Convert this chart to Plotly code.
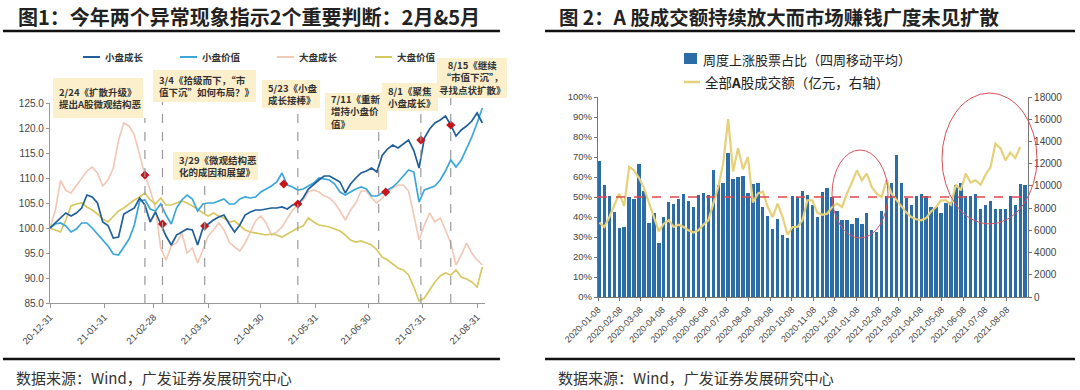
import plotly.graph_objects as go
import pandas as pd

W, H = 1080, 390


def px(x):
    return x / W


def py(y):
    return 1 - y / H


CJK = "Noto Sans CJK SC"
LAT = "Liberation Sans"

# ---------------- Left chart data (figure 1) ----------------
style_dates = pd.date_range("2020-12-31", periods=83, freq="3D")

small_growth = [100, 101, 102.2, 103, 102.4, 103, 104, 106.6, 106.2, 105,
                101.2, 100.5, 98, 98.2, 102.8, 103.4, 104, 106, 104.6, 101.2,
                103.2, 100.8, 98.4, 96.6, 98.6, 99.2, 99.8, 99.6, 96.6, 100,
                100.8, 101.6, 102.2, 102.6, 100.8, 99.2, 100.6, 102.6, 103.2, 103.6,
                103.6, 103.8, 104, 104, 104.2, 103.8, 104.6, 104.8, 106, 107.8,
                108.8, 109.6, 110.4, 110.4, 109.8, 109.2, 107, 108.8, 110, 111,
                111.4, 112, 111.2, 114.5, 115.8, 116.6, 116, 116.8, 117.6, 115.5,
                112, 118, 119.8, 121, 121.6, 122.4, 120.6, 118.4, 119.6, 120.4,
                121.4, 123, 121]

small_value = [100, 100.8, 101, 100.4, 99.2, 99.8, 101, 101, 100, 98.8,
               97.6, 96.4, 94.8, 94.6, 96.2, 97.8, 100.6, 105.4, 105.6, 103.8,
               103.4, 104.8, 102.6, 100.8, 104, 105.6, 106.6, 105.8, 103.4, 104.8,
               105, 105, 105.4, 105.8, 104.8, 104.8, 105.8, 106.2, 106, 106.2,
               107.2, 107.8, 108.4, 109.2, 111, 108.6, 108.2, 107.6, 107.8, 108.4,
               109, 110, 109.8, 109.6, 108.8, 107.2, 106.6, 107.2, 107.8, 108.2,
               107.8, 106.4, 106.4, 107, 107.6, 108.2, 109.2, 110.4, 111.6, 111.2,
               105.2, 107.6, 108, 108.4, 109.6, 111.4, 113.6, 112.2, 113.6, 116,
               118.2, 121, 124]

large_growth = [100, 103.5, 109.5, 107.5, 107, 108.5, 109.8, 111.4, 112.2, 111,
                108.4, 109.6, 112, 117.6, 121, 120.4, 118.6, 114.6, 110.6, 107.6,
                104, 96, 93.6, 96.4, 97, 99, 95, 96, 93, 95.6,
                98.4, 99.6, 101, 99.6, 97.2, 96.2, 95.4, 97, 99.2, 101.4,
                102.4, 101, 98.6, 99.2, 100.2, 102, 103.6, 104.6, 105.6, 107.2,
                107.6, 107.2, 106.4, 106, 105, 103.4, 101.6, 103.6, 105, 107.4,
                107.4, 106, 105, 106, 107.2, 108, 108.6, 108.6, 107.4, 102.6,
                97.6, 100.6, 103, 101.2, 102, 99.6, 97, 92.6, 94.6, 97,
                95, 93.6, 92.6]

large_value = [100, 99.6, 99.2, 101.6, 104.4, 104.8, 105, 104.2, 103.6, 102.8,
               101.8, 101.2, 102.4, 103.4, 104, 104.8, 105.6, 106.2, 107, 105.6,
               104.8, 106, 104.6, 104.6, 105, 105.4, 105, 104.4, 103.8, 103,
               102.4, 103, 102.4, 102, 101.2, 101.4, 100.4, 99.6, 99.2, 99,
               98.8, 98.6, 98.8, 98.6, 98.2, 98.8, 99.4, 100, 100.4, 102,
               101.2, 100.6, 100.4, 100.2, 99.8, 99.4, 98.6, 97.6, 97.2, 97.4,
               97, 96.6, 95.6, 94.2, 93.6, 92.8, 92, 91.6, 90.6, 88.2,
               85.4, 86, 87.6, 89.2, 90.4, 91, 90.6, 91.6, 90.2, 89.8,
               89.2, 88.2, 92.2]

style_names = ["小盘成长", "小盘价值", "大盘成长", "大盘价值"]
style_colors = ["#215f9a", "#3ba6d9", "#f1c9b8", "#d8c862"]

marker_dates = ["2021-02-23", "2021-03-05", "2021-03-29", "2021-05-13",
                "2021-05-21", "2021-07-10", "2021-07-30", "2021-08-16"]
marker_values = [110.6, 100.8, 100.4, 108.8, 104.8, 107.2, 117.6, 120.6]

event_dates = ["2021-02-23", "2021-03-05", "2021-03-29", "2021-05-21",
               "2021-07-06", "2021-07-30", "2021-08-16"]
event_texts = ["2/24《扩散升级》<br>提出A股微观结构恶",
               "3/4《拾级而下，“市<br>值下沉”如何布局？》",
               "3/29《微观结构恶<br>化的成因和展望》",
               "5/23《小盘<br>成长接棒》",
               "7/11《重新<br>增持小盘价<br>值》",
               "8/1《聚焦<br>小盘成长》",
               "8/15《继续<br>“市值下沉”，<br>寻找点状扩散》"]

left_tickvals = ["2020-12-31", "2021-01-31", "2021-02-28", "2021-03-31", "2021-04-30",
                 "2021-05-31", "2021-06-30", "2021-07-31", "2021-08-31"]
left_ticktext = ["20-12-31", "21-01-31", "21-02-28", "21-03-31", "21-04-30",
                 "21-05-31", "21-06-30", "21-07-31", "21-08-31"]

# ---------------- Right chart data (figure 2) ----------------
week_dates = pd.date_range("2020-01-10", periods=87, freq="7D")

up_ratio = [68, 56, 50.5, 42.7, 34.6, 34.8, 50, 49, 66.5, 53,
            37, 42, 27, 40, 47.5, 46.5, 49, 51.5, 48, 45,
            51, 52, 51, 63.6, 56, 57, 72, 59, 60, 60.5,
            52, 56.5, 57, 45, 40.5, 34, 39, 31, 29.5, 50.5,
            50, 53, 51, 46, 40, 52.7, 54.5, 50, 43, 38.5,
            38.5, 36.5, 39.5, 36.5, 42, 33.5, 32.7, 43, 50.5, 57,
            71, 57, 49.5, 46, 50.5, 51.5, 50.5, 45, 45, 42,
            47, 47.5, 55.8, 57, 50.5, 50.5, 51.5, 44, 46, 48,
            44, 44, 44, 50.5, 46, 56.5, 56]

turnover = [6700, 6300, 7200, 8300, 9300, 8200, 11700, 11400, 10700, 9800,
            8500, 7000, 5900, 6600, 6900, 6300, 6500, 6300, 6000, 5800,
            6000, 6500, 6900, 8400, 9900, 12000, 16000, 11300, 13400, 11500,
            12600, 8500, 9300, 9500, 8100, 7200, 8400, 7200, 5600, 6300,
            6300, 6900, 8700, 8700, 7600, 7400, 7500, 8100, 8400, 8100,
            9300, 10300, 11400, 10500, 11100, 9900, 9300, 9000, 10500, 9300,
            8700, 8100, 7600, 7200, 7000, 6900, 7100, 7700, 8100, 8700,
            8700, 8300, 10100, 9600, 11100, 10300, 10500, 10100, 11000, 11700,
            13800, 13400, 12300, 13000, 12500, 13500]

right_tickvals = ["2020-%02d-08" % m for m in range(1, 13)] + ["2021-%02d-08" % m for m in range(1, 9)]
right_ticktext = right_tickvals

fig = go.Figure()

series = [small_growth, small_value, large_growth, large_value]
for i in [2, 3, 1, 0]:
    fig.add_trace(go.Scatter(x=style_dates, y=series[i], mode="lines", name=style_names[i],
                             line=dict(color=style_colors[i], width=1.7),
                             xaxis="x", yaxis="y", showlegend=False))
fig.add_trace(go.Scatter(x=marker_dates, y=marker_values, mode="markers",
                         marker=dict(symbol="diamond", size=7, color="#c8141c"),
                         xaxis="x", yaxis="y", showlegend=False, name="事件"))

fig.add_trace(go.Bar(x=week_dates, y=up_ratio, name="周度上涨股票占比（四周移动平均）",
                     marker=dict(color="#2c6da8", line=dict(width=0)),
                     width=4.8 * 86400000, xaxis="x2", yaxis="y2", showlegend=False))
fig.add_trace(go.Scatter(x=week_dates[:len(turnover)], y=turnover, mode="lines",
                         name="全部A股成交额（亿元，右轴）",
                         line=dict(color="#e6d07a", width=2.2),
                         xaxis="x2", yaxis="y3", showlegend=False))

fig.update_layout(
    width=W, height=H, autosize=False,
    margin=dict(l=0, r=0, t=0, b=0, pad=0),
    paper_bgcolor="white", plot_bgcolor="rgba(0,0,0,0)",
    bargap=0,
    xaxis=dict(domain=[px(50), px(485)], anchor="y", type="date", automargin=False,
               range=["2020-12-31", "2021-09-04 12:00"],
               tickvals=left_tickvals, ticktext=left_ticktext, tickangle=-45,
               ticks="outside", ticklen=4, tickcolor="#999",
               showline=True, linecolor="#999", linewidth=1.2,
               showgrid=False, zeroline=False,
               tickfont=dict(family=LAT, size=9.5, color="#444")),
    yaxis=dict(domain=[py(303), py(103)], anchor="x", range=[85, 125], dtick=5, automargin=False,
               tickformat=".1f", ticks="outside", ticklen=3, tickcolor="#999",
               showline=True, linecolor="#999", linewidth=1.2,
               showgrid=False, zeroline=False,
               tickfont=dict(family=LAT, size=10, color="#444")),
    xaxis2=dict(domain=[px(598), px(1028)], anchor="y2", type="date", automargin=False,
                range=["2020-01-08", "2021-09-07"],
                tickvals=right_tickvals, ticktext=right_ticktext, tickangle=-45,
                ticks="outside", ticklen=3, tickcolor="#777",
                showline=True, linecolor="#777", linewidth=1.2,
                showgrid=False, zeroline=False,
                tickfont=dict(family=LAT, size=9, color="#444")),
    yaxis2=dict(domain=[py(297), py(97)], anchor="x2", range=[0, 100], dtick=10, automargin=False,
                ticksuffix="%", ticks="outside", ticklen=3, tickcolor="#777",
                showline=True, linecolor="#777", linewidth=1.2,
                showgrid=False, zeroline=False,
                tickfont=dict(family=LAT, size=9.5, color="#444")),
    yaxis3=dict(overlaying="y2", side="right", anchor="x2", range=[0, 18000], dtick=2000,
                automargin=False, tickformat="d",
                ticks="outside", ticklen=3, tickcolor="#777",
                showline=True, linecolor="#777", linewidth=1.2,
                showgrid=False, zeroline=False,
                tickfont=dict(family=LAT, size=10, color="#444")),
)

shapes = []
annotations = []

for x0, x1 in [(3, 500), (545, 1075)]:
    shapes.append(dict(type="line", xref="paper", yref="paper", x0=px(x0), x1=px(x1),
                       y0=py(31), y1=py(31), line=dict(color="#111", width=2.5)))
    shapes.append(dict(type="line", xref="paper", yref="paper", x0=px(x0), x1=px(x1),
                       y0=py(359), y1=py(359), line=dict(color="#111", width=2.5)))

annotations.append(dict(text="<b>图1：今年两个异常现象指示2个重要判断：2月&5月</b>", x=px(16), y=py(17),
                        xref="paper", yref="paper", xanchor="left", yanchor="middle", showarrow=False,
                        font=dict(family=CJK, size=20, color="#222")))
annotations.append(dict(text="<b>图 2：A 股成交额持续放大而市场赚钱广度未见扩散</b>", x=px(557), y=py(17),
                        xref="paper", yref="paper", xanchor="left", yanchor="middle", showarrow=False,
                        font=dict(family=CJK, size=19.4, color="#222")))
for sx in [14, 556]:
    annotations.append(dict(text="数据来源：Wind，广发证券发展研究中心", x=px(sx), y=py(377),
                            xref="paper", yref="paper", xanchor="left", yanchor="middle", showarrow=False,
                            font=dict(family=CJK, size=15, color="#333")))

leg_x = [83, 180, 277, 375]
for lx, name, col in zip(leg_x, style_names, style_colors):
    shapes.append(dict(type="line", xref="paper", yref="paper", x0=px(lx), x1=px(lx + 17),
                       y0=py(57), y1=py(57), line=dict(color=col, width=2)))
    annotations.append(dict(text="<b>" + name + "</b>", x=px(lx + 20), y=py(57), xref="paper", yref="paper",
                            xanchor="left", yanchor="middle", showarrow=False,
                            font=dict(family=CJK, size=9.5, color="#333")))

boxes = [(53, 143, 78, 118), (153, 256, 70, 102), (173, 258, 152, 180), (262, 320, 80, 108),
         (325, 387, 93, 130), (382, 438, 83, 111), (437, 507, 58, 98)]
for d, (bx0, bx1, by0, by1) in zip(event_dates, boxes):
    shapes.append(dict(type="line", xref="x", yref="paper", x0=d, x1=d, y0=py(303), y1=py(by1),
                       line=dict(color="#9a9a9a", width=1.2, dash="dash")))
for (bx0, bx1, by0, by1) in boxes:
    shapes.append(dict(type="rect", xref="paper", yref="paper", x0=px(bx0), x1=px(bx1),
                       y0=py(by1), y1=py(by0), fillcolor="#fcf0cc", line=dict(width=0), layer="above"))
for i, (txt, (bx0, bx1, by0, by1)) in enumerate(zip(event_texts, boxes)):
    centered = i == 6
    annotations.append(dict(text="<b>" + txt + "</b>",
                            x=px((bx0 + bx1) / 2) if centered else px(bx0 + 4),
                            y=py((by0 + by1) / 2),
                            xref="paper", yref="paper",
                            xanchor="center" if centered else "left", yanchor="middle",
                            align="center" if centered else "left", showarrow=False,
                            font=dict(family=CJK, size=9.5, color="#333")))

shapes.append(dict(type="line", xref="x2 domain", yref="y2", x0=0, x1=1, y0=50, y1=50,
                   line=dict(color="#e0474c", width=1.5, dash="dash")))
for (ex0, ex1, ey0, ey1) in [(832, 888, 150, 238), (942, 1037, 93, 224)]:
    shapes.append(dict(type="circle", xref="paper", yref="paper", x0=px(ex0), x1=px(ex1),
                       y0=py(ey1), y1=py(ey0), line=dict(color="#d9505a", width=1)))

shapes.append(dict(type="rect", xref="paper", yref="paper", x0=px(684), x1=px(697),
                   y0=py(64), y1=py(53), fillcolor="#2c6da8", line=dict(width=0)))
annotations.append(dict(text="周度上涨股票占比（四周移动平均）", x=px(701), y=py(59), xref="paper", yref="paper",
                        xanchor="left", yanchor="middle", showarrow=False,
                        font=dict(family=CJK, size=13, color="#222")))
shapes.append(dict(type="line", xref="paper", yref="paper", x0=px(684), x1=px(700),
                   y0=py(82), y1=py(82), line=dict(color="#e6d07a", width=2.5)))
annotations.append(dict(text="全部<b>A</b>股成交额（亿元，右轴）", x=px(703), y=py(82), xref="paper", yref="paper",
                        xanchor="left", yanchor="middle", showarrow=False,
                        font=dict(family=CJK, size=13.5, color="#222")))

fig.update_layout(shapes=shapes, annotations=annotations)

fig.write_html("out.html", config={"displayModeBar": False},
               post_script="document.body.style.margin='0px';")
